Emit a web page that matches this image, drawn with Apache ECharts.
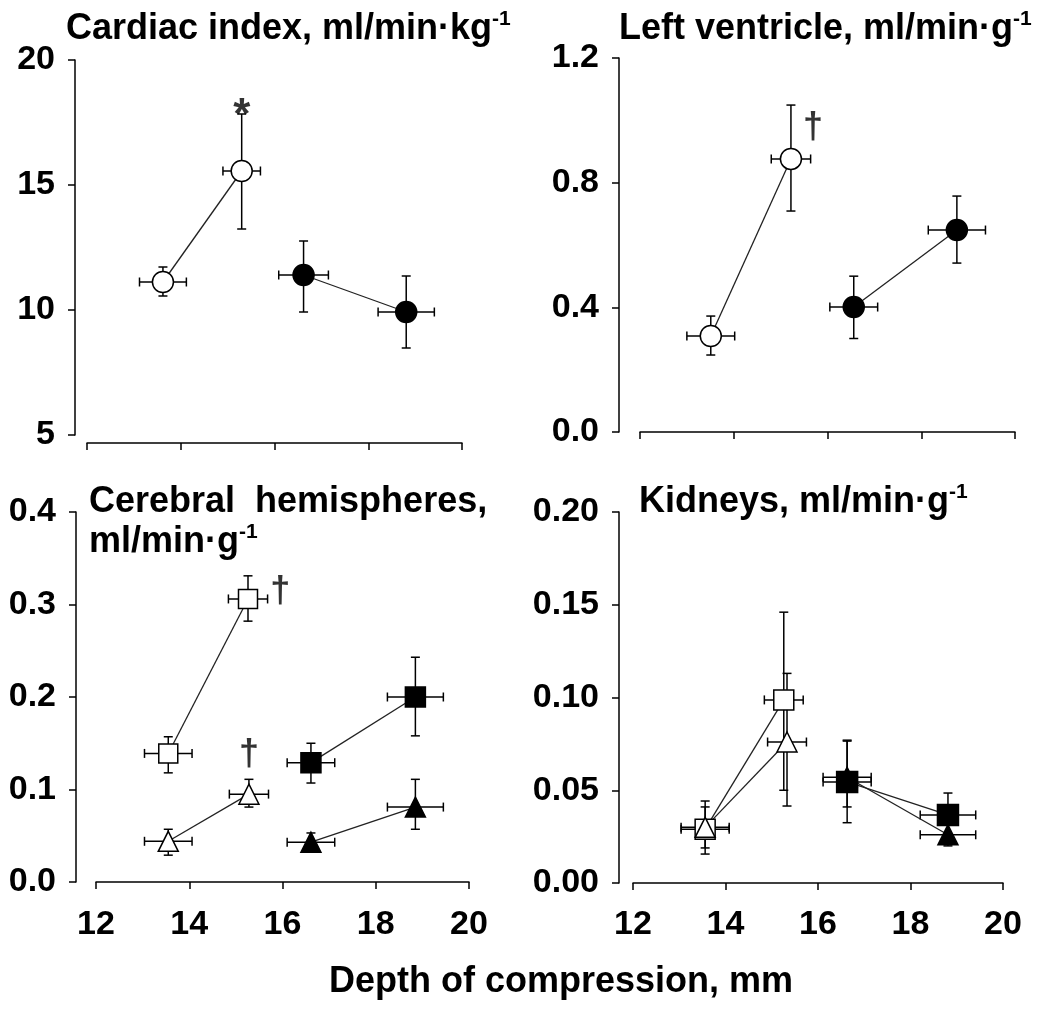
<!DOCTYPE html>
<html><head><meta charset="utf-8">
<script src="https://cdn.jsdelivr.net/npm/echarts@6/dist/echarts.min.js"></script>
<style>html,body{margin:0;padding:0;background:#fff}#c{width:1050px;height:1013px}</style>
</head><body><div id="c"></div>
<script>
// ---------- data ----------
const xMin = 12, xMax = 20, xStep = 2;

// Panel 1: Cardiac index
const ciOpenX = [13.62, 15.30], ciOpenY = [11.12, 15.56], ciOpenXErr = [0.50, 0.40], ciOpenYLo = [10.56, 13.24], ciOpenYHi = [11.72, 17.84];
const ciFillX = [16.62, 18.81], ciFillY = [11.40, 9.92], ciFillXErr = [0.53, 0.60], ciFillYLo = [9.92, 8.48], ciFillYHi = [12.76, 11.36];

// Panel 2: Left ventricle
const lvOpenX = [13.51, 15.22], lvOpenY = [0.308, 0.876], lvOpenXErr = [0.51, 0.42], lvOpenYLo = [0.247, 0.709], lvOpenYHi = [0.372, 1.049];
const lvFillX = [16.56, 18.76], lvFillY = [0.401, 0.648], lvFillXErr = [0.51, 0.61], lvFillYLo = [0.300, 0.542], lvFillYHi = [0.500, 0.757];

// Panel 3: Cerebral hemispheres
const chOpenSqX = [13.55, 15.26], chOpenSqY = [0.139, 0.306], chOpenSqXErr = [0.51, 0.42], chOpenSqYLo = [0.118, 0.282], chOpenSqYHi = [0.157, 0.331];
const chOpenTrX = [13.55, 15.28], chOpenTrY = [0.044, 0.095], chOpenTrXErr = [0.51, 0.42], chOpenTrYLo = [0.029, 0.081], chOpenTrYHi = [0.057, 0.111];
const chFillSqX = [16.61, 18.85], chFillSqY = [0.129, 0.200], chFillSqXErr = [0.51, 0.60], chFillSqYLo = [0.107, 0.158], chFillSqYHi = [0.150, 0.243];
const chFillTrX = [16.61, 18.85], chFillTrY = [0.043, 0.081], chFillTrXErr = [0.51, 0.60], chFillTrYLo = [0.035, 0.057], chFillTrYHi = [0.053, 0.111];

// Panel 4: Kidneys
const kdOpenSqX = [13.56, 15.26], kdOpenSqY = [0.029, 0.0987], kdOpenSqXErr = [0.52, 0.42], kdOpenSqYLo = [0.0156, 0.050], kdOpenSqYHi = [0.0442, 0.146];
const kdOpenTrX = [13.56, 15.33], kdOpenTrY = [0.030, 0.076], kdOpenTrXErr = [0.52, 0.42], kdOpenTrYLo = [0.0189, 0.0415], kdOpenTrYHi = [0.041, 0.113];
const kdFillSqX = [16.63, 18.81], kdFillSqY = [0.0545, 0.0367], kdFillSqXErr = [0.52, 0.60], kdFillSqYLo = [0.0325, 0.025], kdFillSqYHi = [0.0765, 0.0485];
const kdFillTrX = [16.63, 18.81], kdFillTrY = [0.057, 0.026], kdFillTrXErr = [0.52, 0.60], kdFillTrYLo = [0.041, 0.020], kdFillTrYHi = [0.077, 0.032];

// Significance marks
const ciMarks = [{x: 15.30, y: 18.16, t: '*'}];
const lvMarks = [{x: 15.69, y: 0.975, t: '\u2020'}];
const chMarks = [{x: 15.95, y: 0.313, t: '\u2020'}, {x: 15.28, y: 0.137, t: '\u2020'}];

// Axis ranges
const yRanges = [
  {min: 5, max: 20, interval: 5, dec: 0},
  {min: 0, max: 1.2, interval: 0.4, dec: 1},
  {min: 0, max: 0.4, interval: 0.1, dec: 1},
  {min: 0, max: 0.2, interval: 0.05, dec: 2}
];

// ---------- chart ----------
const FONT = 'Liberation Sans, Arial, sans-serif';
const chart = echarts.init(document.getElementById('c'));

const grids = [
  {left: 87, top: 60, width: 375, height: 375},
  {left: 640, top: 58, width: 375, height: 374},
  {left: 96, top: 512, width: 373, height: 370},
  {left: 633, top: 512, width: 370, height: 371}
];
const xOffsets = [8, 10, 15, 14];
const yOffsets = [12, 21, 20, 14];

const axisLine = {show: true, lineStyle: {color: '#000', width: 1.5}};
const axisTick = {show: true, inside: false, length: 7, lineStyle: {color: '#000', width: 1.5}};

const xAxes = grids.map((g, i) => ({
  gridIndex: i, type: 'value', min: xMin, max: xMax, interval: xStep,
  offset: xOffsets[i], axisLine, axisTick, splitLine: {show: false},
  axisLabel: {show: i >= 2, margin: 11, fontFamily: FONT, fontWeight: 'bold', fontSize: 34, color: '#000'}
}));
const yAxes = grids.map((g, i) => ({
  gridIndex: i, type: 'value', min: yRanges[i].min, max: yRanges[i].max, interval: yRanges[i].interval,
  offset: yOffsets[i], axisLine, axisTick, splitLine: {show: false},
  axisLabel: {margin: 20, fontFamily: FONT, fontWeight: 'bold', fontSize: 34, color: '#000',
    formatter: v => v.toFixed(yRanges[i].dec)}
}));

function zip(x, y, xe, lo, hi) { return x.map((v, k) => [v, y[k], xe[k], lo[k], hi[k]]); }

function errRender(params, api) {
  const x = api.value(0), y = api.value(1), xe = api.value(2), lo = api.value(3), hi = api.value(4);
  const c = api.coord([x, y]);
  const l = api.coord([x - xe, y]), r = api.coord([x + xe, y]);
  const t = api.coord([x, hi]), b = api.coord([x, lo]);
  const h = 4.5;
  const st = {stroke: '#000', lineWidth: 1.5};
  const ln = (x1, y1, x2, y2) => ({type: 'line', shape: {x1, y1, x2, y2}, style: st});
  return {type: 'group', children: [
    ln(l[0], c[1], r[0], c[1]),
    ln(l[0], c[1] - h, l[0], c[1] + h),
    ln(r[0], c[1] - h, r[0], c[1] + h),
    ln(c[0], t[1], c[0], b[1]),
    ln(c[0] - h, t[1], c[0] + h, t[1]),
    ln(c[0] - h, b[1], c[0] + h, b[1])
  ]};
}

const series = [];
function addGroup(gi, x, y, xe, lo, hi, symbol, filled, size) {
  series.push({
    type: 'custom', coordinateSystem: 'cartesian2d', xAxisIndex: gi, yAxisIndex: gi,
    renderItem: errRender, data: zip(x, y, xe, lo, hi), z: 2, silent: true,
    encode: {x: 0, y: 1}
  });
  series.push({
    type: 'line', xAxisIndex: gi, yAxisIndex: gi, data: x.map((v, k) => [v, y[k]]),
    symbol, symbolSize: size, showSymbol: true, showAllSymbol: true, z: 3, silent: true,
    lineStyle: {color: '#222', width: 1.3},
    itemStyle: {color: filled ? '#000' : '#fff', borderColor: '#000', borderWidth: 1.5, opacity: 1},
    emphasis: {disabled: true}
  });
}
function addMarks(gi, marks, size, offY) {
  series.push({
    type: 'scatter', xAxisIndex: gi, yAxisIndex: gi, symbolSize: 1, z: 5, silent: true,
    itemStyle: {color: 'rgba(0,0,0,0)'},
    data: marks.map(m => ({value: [m.x, m.y], name: m.t})),
    label: {show: true, position: 'inside', formatter: p => p.name, fontFamily: FONT, fontWeight: 'bold',
      fontSize: size, color: '#000', offset: [0, offY]}
  });
}

addGroup(0, ciOpenX, ciOpenY, ciOpenXErr, ciOpenYLo, ciOpenYHi, 'circle', false, 21);
addGroup(0, ciFillX, ciFillY, ciFillXErr, ciFillYLo, ciFillYHi, 'circle', true, 21);
addGroup(1, lvOpenX, lvOpenY, lvOpenXErr, lvOpenYLo, lvOpenYHi, 'circle', false, 21);
addGroup(1, lvFillX, lvFillY, lvFillXErr, lvFillYLo, lvFillYHi, 'circle', true, 21);
addGroup(2, chOpenSqX, chOpenSqY, chOpenSqXErr, chOpenSqYLo, chOpenSqYHi, 'rect', false, 19);
addGroup(2, chOpenTrX, chOpenTrY, chOpenTrXErr, chOpenTrYLo, chOpenTrYHi, 'triangle', false, 20);
addGroup(2, chFillSqX, chFillSqY, chFillSqXErr, chFillSqYLo, chFillSqYHi, 'rect', true, 20);
addGroup(2, chFillTrX, chFillTrY, chFillTrXErr, chFillTrYLo, chFillTrYHi, 'triangle', true, 20);
addGroup(3, kdOpenSqX, kdOpenSqY, kdOpenSqXErr, kdOpenSqYLo, kdOpenSqYHi, 'rect', false, 20);
addGroup(3, kdOpenTrX, kdOpenTrY, kdOpenTrXErr, kdOpenTrYLo, kdOpenTrYHi, 'triangle', false, 20);
addGroup(3, kdFillSqX, kdFillSqY, kdFillSqXErr, kdFillSqYLo, kdFillSqYHi, 'rect', true, 21);
addGroup(3, kdFillTrX, kdFillTrY, kdFillTrXErr, kdFillTrYLo, kdFillTrYHi, 'triangle', true, 20);
addMarks(0, ciMarks, 44, 11);
addMarks(1, lvMarks, 36, 0);
addMarks(2, chMarks, 36, 0);

const rich = {
  t: {fontFamily: FONT, fontWeight: 'bold', fontSize: 36, color: '#000', lineHeight: 40},
  s: {fontFamily: FONT, fontWeight: 'bold', fontSize: 21, color: '#000', lineHeight: 40, verticalAlign: 'top', padding: [0, 0, 14, 0]}
};
const mkTitle = (text, left, top) => ({text, left, top, padding: 0, textStyle: {rich, fontSize: 36}});

chart.setOption({
  animation: false,
  backgroundColor: '#fff',
  title: [
    mkTitle('{t|Cardiac index, ml/min\u00b7kg}{s|-1}', 66, 9),
    mkTitle('{t|Left ventricle, ml/min\u00b7g}{s|-1}', 619, 9),
    mkTitle('{t|Cerebral  hemispheres,}\n{t|ml/min\u00b7g}{s|-1}', 89, 482),
    mkTitle('{t|Kidneys, ml/min\u00b7g}{s|-1}', 639, 482)
  ],
  grid: grids,
  xAxis: xAxes,
  yAxis: yAxes,
  series,
  graphic: [{
    type: 'text', x: 561, y: 982,
    style: {text: 'Depth of compression, mm', fontFamily: FONT, fontWeight: 'bold', fontSize: 36, fill: '#000',
      align: 'center', verticalAlign: 'middle'}
  }]
});
</script></body></html>
